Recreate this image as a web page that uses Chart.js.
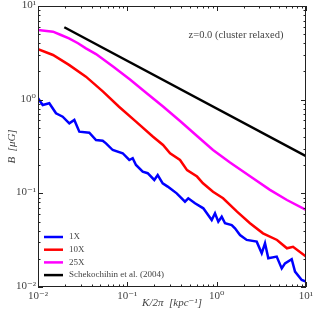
<!DOCTYPE html>
<html>
<head>
<meta charset="utf-8">
<script src="https://cdn.jsdelivr.net/npm/chart.js@4.4.1/dist/chart.umd.min.js"></script>
<style>
  html, body { margin: 0; padding: 0; background: #fff; }
</style>
</head>
<body>
<canvas id="chart" width="317" height="316"></canvas>
<script>
// data (K/2pi in kpc^-1, B in muG)
const k1x = [0.01, 0.01129, 0.01338, 0.0159, 0.0189, 0.02241, 0.0255, 0.029, 0.03752, 0.04461, 0.053, 0.05771, 0.06861, 0.08875, 0.1052, 0.1148, 0.125, 0.1486, 0.169, 0.2003, 0.2188, 0.2488, 0.283, 0.3003, 0.357, 0.442, 0.4813, 0.5724, 0.7087, 0.88, 0.958, 1.043, 1.139, 1.24, 1.474, 1.604, 1.825, 2.169, 2.807, 3.193, 3.476, 3.786, 4.699, 5.348, 5.821, 6.918, 7.534, 8.954, 10];
const b1x = [1.034, 0.877, 0.915, 0.715, 0.658, 0.559, 0.607, 0.455, 0.444, 0.371, 0.365, 0.342, 0.29, 0.268, 0.227, 0.237, 0.201, 0.17, 0.164, 0.139, 0.157, 0.128, 0.118, 0.113, 0.1, 0.0814, 0.0885, 0.0783, 0.0692, 0.0519, 0.0612, 0.0498, 0.0563, 0.0479, 0.0459, 0.0423, 0.0359, 0.0318, 0.0305, 0.0229, 0.0293, 0.0203, 0.0211, 0.0158, 0.0179, 0.0198, 0.0146, 0.0119, 0.0114];

const k10x = [0.01, 0.01472, 0.02223, 0.0344, 0.0535, 0.0807, 0.125, 0.194, 0.251, 0.301, 0.389, 0.466, 0.603, 0.703, 0.91, 1.18, 1.69, 2.36, 3.3, 4.74, 6.12, 7.16, 10];
const b10x = [3.47, 3.0, 2.35, 1.76, 1.22, 0.841, 0.582, 0.402, 0.328, 0.267, 0.227, 0.177, 0.151, 0.128, 0.104, 0.0885, 0.0637, 0.0479, 0.0374, 0.0318, 0.0259, 0.0269, 0.0211];

const k25x = [0.01, 0.01472, 0.01809, 0.02223, 0.02804, 0.0344, 0.04461, 0.06915, 0.1071, 0.1661, 0.251, 0.389, 0.603, 0.91, 1.411, 2.55, 3.95, 6.12, 10];
const b25x = [5.54, 5.32, 4.90, 4.52, 4.00, 3.53, 3.07, 2.26, 1.642, 1.164, 0.846, 0.592, 0.409, 0.290, 0.2135, 0.145, 0.109, 0.0849, 0.0664];

const kSch = [0.0197, 10];
const bSch = [5.93, 0.25];

const labels = ['1X', '10X', '25X', 'Schekochihin et al. (2004)'];
const colors = ['#0000ff', '#ff0000', '#ff00ff', '#000000'];
const tickExp = [-2, -1, 0, 1];
const tickText = ['10\u207B\u00B2', '10\u207B\u00B9', '10\u2070', '10\u00B9'];
const note = 'z=0.0 (cluster relaxed)';

const pts = (xs, ys) => xs.map((x, i) => ({ x: x, y: ys[i] }));
const series = [pts(k1x, b1x), pts(k10x, b10x), pts(k25x, b25x), pts(kSch, bSch)];

const serif = '"Liberation Serif", "DejaVu Serif", serif';
const textCol = '#444';

// frame, inward ticks, labels, legend and note drawn on top
const decor = {
    id: 'decor',
    afterDatasetsDraw(chart) {
        const ctx = chart.ctx;
        const a = chart.chartArea;
        const xs = chart.scales.x;
        const ys = chart.scales.y;
        ctx.save();
        ctx.strokeStyle = '#222';
        ctx.lineWidth = 1;
        ctx.strokeRect(a.left + 0.5, a.top + 0.5, a.right - a.left - 1, a.bottom - a.top - 1);

        ctx.beginPath();
        for (let e = -2; e <= 1; e++) {
            for (let m = 1; m <= 9; m++) {
                const v = m * Math.pow(10, e);
                if (v > 10.0001) continue;
                const len = m === 1 ? 5 : 2.5;
                const px = Math.round(xs.getPixelForValue(v)) + 0.5;
                const py = Math.round(ys.getPixelForValue(v)) + 0.5;
                ctx.moveTo(px, a.bottom); ctx.lineTo(px, a.bottom - len);
                ctx.moveTo(px, a.top); ctx.lineTo(px, a.top + len);
                ctx.moveTo(a.left, py); ctx.lineTo(a.left + len, py);
                ctx.moveTo(a.right, py); ctx.lineTo(a.right - len, py);
            }
        }
        ctx.stroke();

        ctx.fillStyle = textCol;
        ctx.font = '11px ' + serif;
        tickExp.forEach((e, i) => {
            const v = Math.pow(10, e);
            ctx.textAlign = 'center';
            ctx.textBaseline = 'middle';
            ctx.fillText(tickText[i], xs.getPixelForValue(v), a.bottom + 9);
            ctx.textAlign = 'right';
            ctx.fillText(tickText[i], a.left - 2, ys.getPixelForValue(v) - 1);
        });

        // axis titles
        ctx.font = 'italic 11px ' + serif;
        ctx.textAlign = 'center';
        ctx.textBaseline = 'middle';
        ctx.fillText('K/2\u03C0  [kpc\u207B\u00B9]', (a.left + a.right) / 2, 303);
        ctx.save();
        ctx.translate(12, (a.top + a.bottom) / 2);
        ctx.rotate(-Math.PI / 2);
        ctx.fillText('B  [\u03BCG]', 0, 0);
        ctx.restore();

        // note
        ctx.font = '10.5px ' + serif;
        ctx.fillText(note, 236, 35);

        // legend
        ctx.font = '9px ' + serif;
        ctx.textAlign = 'left';
        labels.forEach((lab, i) => {
            const y = 237 + i * 12.7;
            ctx.strokeStyle = colors[i];
            ctx.lineWidth = 2.5;
            ctx.beginPath();
            ctx.moveTo(44, y); ctx.lineTo(63, y);
            ctx.stroke();
            ctx.fillText(lab, 69, y);
        });
        ctx.restore();
    }
};

new Chart(document.getElementById('chart'), {
    type: 'line',
    data: {
        datasets: series.map((d, i) => ({
            label: labels[i],
            data: d,
            borderColor: colors[i],
            borderWidth: 2.5,
            pointRadius: 0,
            tension: 0,
            fill: false
        }))
    },
    options: {
        responsive: false,
        devicePixelRatio: 1,
        animation: false,
        layout: { padding: { top: 6, right: 11, left: 0, bottom: 0 } },
        plugins: { legend: { display: false }, tooltip: { enabled: false } },
        scales: {
            x: {
                type: 'logarithmic', min: 0.01, max: 10,
                grid: { display: false }, border: { display: false },
                ticks: { display: false },
                afterFit: s => { s.height = 29; }
            },
            y: {
                type: 'logarithmic', min: 0.01, max: 10,
                grid: { display: false }, border: { display: false },
                ticks: { display: false },
                afterFit: s => { s.width = 38; }
            }
        }
    },
    plugins: [decor]
});
</script>
</body>
</html>
